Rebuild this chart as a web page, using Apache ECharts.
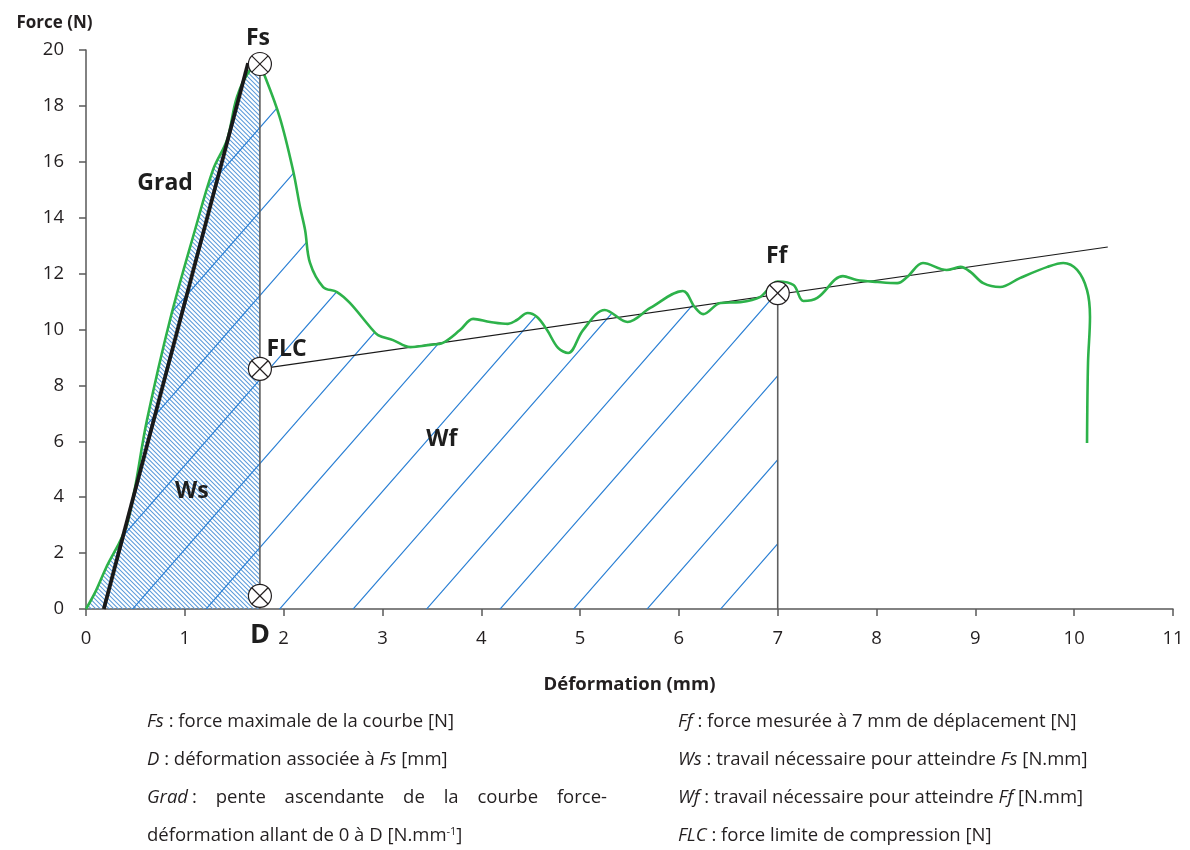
<!DOCTYPE html>
<html><head><meta charset="utf-8">
<script src="https://cdn.jsdelivr.net/npm/echarts/dist/echarts.min.js"></script>
<style>html,body{margin:0;padding:0;background:#fff}#c{width:1190px;height:850px}</style>
</head><body><div id="c"></div>
<script>
// ---- data ----
const deformation = [0, 0.1, 0.2, 0.415, 0.617, 0.85, 1.103, 1.285, 1.427, 1.528, 1.66, 1.76, 1.80, 1.96, 2.095, 2.166, 2.217, 2.267, 2.40, 2.54, 2.67, 2.875, 2.955, 3.107, 3.28, 3.48, 3.61, 3.785, 3.917, 4.09, 4.27, 4.36, 4.47, 4.565, 4.666, 4.777, 4.88, 5.03, 5.25, 5.48, 5.71, 6.04, 6.16, 6.245, 6.42, 6.62, 6.82, 7.0, 7.16, 7.26, 7.40, 7.66, 7.80, 8.01, 8.21, 8.31, 8.47, 8.71, 8.85, 8.95, 9.08, 9.25, 9.45, 9.73, 9.89, 10.03, 10.13, 10.16, 10.14, 10.13];
const force = [0, 0.65, 1.45, 3.04, 6.76, 10.34, 13.56, 15.71, 16.78, 18.32, 19.28, 19.4, 19.15, 17.6, 15.7, 14.38, 13.56, 12.38, 11.52, 11.34, 10.95, 10.09, 9.80, 9.62, 9.37, 9.45, 9.52, 9.98, 10.38, 10.27, 10.2, 10.34, 10.59, 10.45, 9.98, 9.34, 9.16, 9.98, 10.7, 10.27, 10.77, 11.38, 10.8, 10.55, 10.95, 10.98, 11.16, 11.72, 11.59, 11.02, 11.13, 11.91, 11.77, 11.7, 11.66, 11.88, 12.38, 12.13, 12.24, 12.06, 11.66, 11.52, 11.84, 12.24, 12.38, 12.13, 11.41, 10.45, 8.8, 5.94];
const gradX = [0.18, 1.64];
const gradF = [0, 19.53];
const D = 1.76;        // deformation at Fs
const Fs = 19.5;
const FLC = 8.59;
const FfX = 7;
const Ff = 11.3;
const Dmark = 0.47;
const compX = [1.76, 10.34];
const compF = [8.59, 12.95];
const annotNames = ['Fs', 'Grad', 'FLC', 'Ff', 'Wf', 'Ws', 'D'];
const notesLeft = [
  '{i|Fs} : force maximale de la courbe [N]',
  '{i|D} : déformation associée à {i|Fs} [mm]',
  null,
  'déformation allant de 0 à D [N.mm{s|-1}]'
];
const gradWords = ['Grad', ':', 'pente', 'ascendante', 'de', 'la', 'courbe', 'force-'];
const notesRight = [
  '{i|Ff} : force mesurée à 7 mm de déplacement [N]',
  '{i|Ws} : travail nécessaire pour atteindre {i|Fs} [N.mm]',
  '{i|Wf} : travail nécessaire pour atteindre {i|Ff} [N.mm]',
  '{i|FLC} : force limite de compression [N]'
];

// ---- helpers ----
const FONT = '"Open Sans", Lato, sans-serif';
const TXT = '#231f20';
const curve = deformation.map((x, i) => [x, force[i]]);
const wsArea = curve.filter(p => p[0] <= D);
const wfArea = curve.filter(p => p[0] <= FfX);

function hatch(w, h, color, lw, dir, n, off) {
  const c = document.createElement('canvas');
  c.width = w; c.height = h;
  const g = c.getContext('2d');
  g.strokeStyle = color; g.lineWidth = lw; g.lineCap = 'butt';
  g.beginPath();
  for (let k = -2 * n; k <= 2 * n; k++) {
    const x0 = off + k * w / n;
    if (dir === 'back') { g.moveTo(x0 - w, -h); g.lineTo(x0 + 2 * w, 2 * h); }
    else { g.moveTo(x0 - w, 2 * h); g.lineTo(x0 + 2 * w, -h); }
  }
  g.stroke();
  return c;
}
const fineHatch = hatch(9, 9, '#5c9bdb', 1.05, 'back', 2, 0);
const coarseHatch = hatch(147, 168, '#2a7fd4', 1.2, 'fwd', 2, 4);

const chart = echarts.init(document.getElementById('c'), null, {renderer: 'canvas'});

// notes graphics
const fs = 18.5;
const rich = {
  i: {fontStyle: 'italic', fontSize: fs, fontFamily: FONT, fill: TXT, color: TXT},
  s: {fontSize: 11, fontFamily: FONT, verticalAlign: 'top', color: TXT, fill: TXT}
};
const rowsY = [725, 763, 801, 839];
const graphics = [];
notesLeft.forEach((t, i) => {
  if (!t) return;
  graphics.push({type: 'text', left: 147, top: rowsY[i] - 13, silent: true,
    style: {text: t, rich, font: `${fs}px ${FONT}`, fill: TXT}});
});
notesRight.forEach((t, i) => {
  graphics.push({type: 'text', left: 678, top: rowsY[i] - 13, silent: true,
    style: {text: t, rich, font: `${fs}px ${FONT}`, fill: TXT}});
});
// justified line
(function () {
  const m = document.createElement('canvas').getContext('2d');
  const widths = gradWords.map((w, i) => {
    m.font = (i === 0 ? 'italic ' : '') + `${fs}px ${FONT}`;
    return m.measureText(w).width;
  });
  const x0 = 147, x1 = 607;
  const smallGap = 4;
  const total = widths.reduce((a, b) => a + b, 0);
  const gap = (x1 - x0 - total - smallGap) / (gradWords.length - 2);
  let x = x0;
  gradWords.forEach((w, i) => {
    graphics.push({type: 'text', x: x, y: rowsY[2] - 13, silent: true,
      style: {text: w, font: (i === 0 ? 'italic ' : '') + `${fs}px ${FONT}`, fill: TXT}});
    x += widths[i] + (i === 0 ? smallGap : gap);
  });
})();

const annotPos = [[1.74, 20.43], [0.80, 15.24], [2.03, 9.27], [6.99, 12.63], [3.60, 6.05], [1.07, 4.19], [1.76, -0.93]];

const option = {
  animation: false,
  grid: {left: 86, right: 17, top: 50, bottom: 241},
  xAxis: {
    type: 'value', min: 0, max: 11, interval: 1,
    axisLine: {show: true, lineStyle: {color: '#595959', width: 1.5}},
    axisTick: {show: true, length: 7, lineStyle: {color: '#595959', width: 1.5}},
    splitLine: {show: false},
    axisLabel: {fontSize: 18.5, color: TXT, fontFamily: FONT, margin: 20},
    name: 'Déformation (mm)', nameLocation: 'middle', nameGap: 66,
    nameTextStyle: {fontSize: 18.5, fontWeight: 'bold', color: TXT, fontFamily: FONT}
  },
  yAxis: {
    type: 'value', min: 0, max: 20, interval: 2,
    axisLine: {show: true, lineStyle: {color: '#595959', width: 1.5}},
    axisTick: {show: true, length: 7, lineStyle: {color: '#595959', width: 1.5}},
    splitLine: {show: false},
    axisLabel: {fontSize: 18.5, color: TXT, fontFamily: FONT, margin: 22},
    name: 'Force (N)', nameLocation: 'end', nameGap: 18,
    nameTextStyle: {fontSize: 17, fontWeight: 'bold', color: TXT, fontFamily: FONT, align: 'center', padding: [0, 63, 0, 0]}
  },
  graphic: graphics,
  series: [
    {type: 'line', name: 'Ws', data: wsArea, smooth: 0.35, symbol: 'none', silent: true, z: 1,
      lineStyle: {width: 0, opacity: 0}, areaStyle: {color: {image: fineHatch, repeat: 'repeat'}, opacity: 1}},
    {type: 'line', name: 'Wf', data: wfArea, smooth: 0.35, symbol: 'none', silent: true, z: 2,
      lineStyle: {width: 0, opacity: 0}, areaStyle: {color: {image: coarseHatch, repeat: 'repeat'}, opacity: 1}},
    {type: 'line', data: [[D, 0], [D, Fs]], symbol: 'none', silent: true, z: 3,
      lineStyle: {color: '#5f5f5f', width: 1.6}},
    {type: 'line', data: [[FfX, 0], [FfX, Ff]], symbol: 'none', silent: true, z: 3,
      lineStyle: {color: '#5f5f5f', width: 1.6}},
    {type: 'line', data: compX.map((x, i) => [x, compF[i]]), symbol: 'none', silent: true, z: 3,
      lineStyle: {color: '#1a1a1a', width: 1.1}},
    {type: 'line', data: curve, smooth: 0.35, symbol: 'none', silent: true, z: 4,
      lineStyle: {color: '#2db24a', width: 2.6}},
    {type: 'line', data: gradX.map((x, i) => [x, gradF[i]]), symbol: 'none', silent: true, z: 5,
      lineStyle: {color: '#1a1a1a', width: 3.8}},
    {type: 'custom', silent: true, z: 6, clip: false,
      data: [[D, Fs], [D, FLC], [FfX, Ff], [D, Dmark]],
      renderItem: (params, api) => {
        const p = api.coord([api.value(0), api.value(1)]);
        const r = 11.5, d = r * 0.7071;
        const st = {stroke: '#231f20', lineWidth: 1.2};
        return {type: 'group', children: [
          {type: 'circle', shape: {cx: p[0], cy: p[1], r}, style: {fill: '#fff', stroke: '#231f20', lineWidth: 1.2}},
          {type: 'line', shape: {x1: p[0] - d, y1: p[1] - d, x2: p[0] + d, y2: p[1] + d}, style: st},
          {type: 'line', shape: {x1: p[0] + d, y1: p[1] - d, x2: p[0] - d, y2: p[1] + d}, style: st}
        ]};
      }},
    {type: 'custom', silent: true, z: 7, clip: false,
      data: annotPos.map((p, i) => [p[0], p[1], i]),
      renderItem: (params, api) => {
        const p = api.coord([api.value(0), api.value(1)]);
        const name = annotNames[api.value(2)];
        const size = name === 'D' ? 27 : 23;
        return {type: 'text', x: p[0], y: p[1], style: {text: name, fill: '#1e1e1e',
          font: `bold ${size}px ${FONT}`, align: 'center', verticalAlign: 'middle'}};
      }}
  ]
};
chart.setOption(option);
</script>
</body></html>
